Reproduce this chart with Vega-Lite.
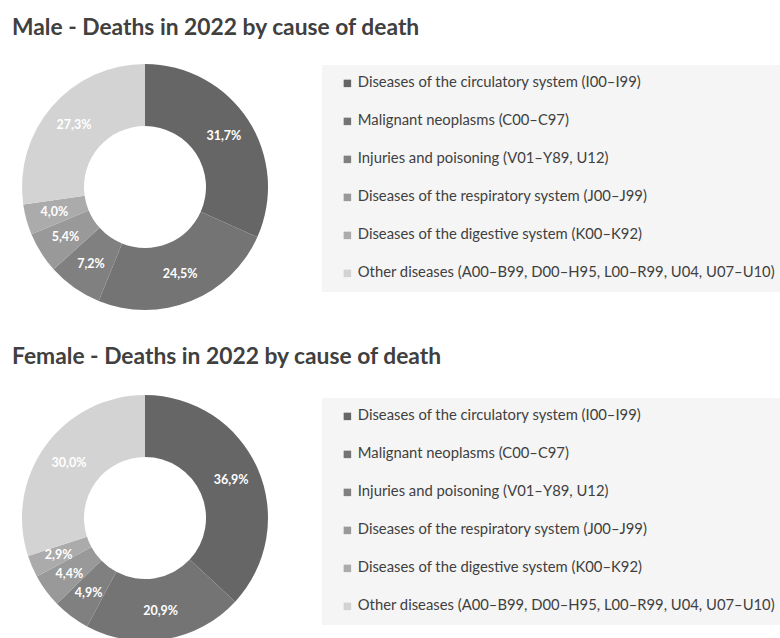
{
  "$schema": "https://vega.github.io/schema/vega-lite/v6.json",
  "padding": {"top": 17, "left": 0, "right": 0, "bottom": 0},
  "background": "white",
  "config": {
    "view": {"stroke": null},
    "font": "Lato",
    "concat": {"spacing": 34}
  },
  "datasets": {
    "male": [
      {"idx": 1, "cause": "Diseases of the circulatory system (I00–I99)", "pct": 31.7, "label": "31,7%"},
      {"idx": 2, "cause": "Malignant neoplasms (C00–C97)", "pct": 24.5, "label": "24,5%"},
      {"idx": 3, "cause": "Injuries and poisoning (V01–Y89, U12)", "pct": 7.2, "label": "7,2%"},
      {"idx": 4, "cause": "Diseases of the respiratory system (J00–J99)", "pct": 5.4, "label": "5,4%"},
      {"idx": 5, "cause": "Diseases of the digestive system (K00–K92)", "pct": 4.0, "label": "4,0%"},
      {"idx": 6, "cause": "Other diseases (A00–B99, D00–H95, L00–R99, U04, U07–U10)", "pct": 27.3, "label": "27,3%"}
    ],
    "female": [
      {"idx": 1, "cause": "Diseases of the circulatory system (I00–I99)", "pct": 36.9, "label": "36,9%"},
      {"idx": 2, "cause": "Malignant neoplasms (C00–C97)", "pct": 20.9, "label": "20,9%"},
      {"idx": 3, "cause": "Injuries and poisoning (V01–Y89, U12)", "pct": 4.9, "label": "4,9%"},
      {"idx": 4, "cause": "Diseases of the respiratory system (J00–J99)", "pct": 4.4, "label": "4,4%"},
      {"idx": 5, "cause": "Diseases of the digestive system (K00–K92)", "pct": 2.9, "label": "2,9%"},
      {"idx": 6, "cause": "Other diseases (A00–B99, D00–H95, L00–R99, U04, U07–U10)", "pct": 30.0, "label": "30,0%"}
    ]
  },
  "vconcat": [
    {
      "title": {"text": "Male - Deaths in 2022 by cause of death", "anchor": "start", "fontSize": 22.8, "fontWeight": "bold", "color": "#404040", "offset": 22, "dx": 12},
      "width": 290,
      "height": 250,
      "data": {"name": "male"},
      "encoding": {
        "theta": {"field": "pct", "type": "quantitative", "stack": true},
        "order": {"field": "idx", "type": "quantitative"}
      },
      "layer": [
        {
          "mark": {"type": "arc", "outerRadius": 123, "innerRadius": 61},
          "encoding": {
            "color": {
              "field": "cause", "type": "nominal", "sort": null,
              "scale": {"domain": ["Diseases of the circulatory system (I00–I99)", "Malignant neoplasms (C00–C97)", "Injuries and poisoning (V01–Y89, U12)", "Diseases of the respiratory system (J00–J99)", "Diseases of the digestive system (K00–K92)", "Other diseases (A00–B99, D00–H95, L00–R99, U04, U07–U10)"],
                        "range": ["#666666", "#747474", "#808080", "#999999", "#ababab", "#d3d3d3"]},
              "legend": {"orient": "none", "legendX": 322, "legendY": 3, "title": null, "fillColor": "#f5f5f5", "padding": 11, "symbolOffset": 7, "symbolType": "square", "symbolSize": 56, "symbolStrokeWidth": 0, "labelFontSize": 14.8, "labelColor": "#404040", "rowPadding": 22, "labelLimit": 0, "labelOffset": 3}
            }
          }
        },
        {
          "mark": {"type": "text", "radius": 94, "fill": "white", "fontSize": 12.5, "fontWeight": "bold"},
          "encoding": {"text": {"field": "label"}}
        }
      ]
    },
    {
      "title": {"text": "Female - Deaths in 2022 by cause of death", "anchor": "start", "fontSize": 22.8, "fontWeight": "bold", "color": "#404040", "offset": 24, "dx": 12},
      "width": 290,
      "height": 250,
      "data": {"name": "female"},
      "encoding": {
        "theta": {"field": "pct", "type": "quantitative", "stack": true},
        "order": {"field": "idx", "type": "quantitative"}
      },
      "layer": [
        {
          "mark": {"type": "arc", "outerRadius": 123, "innerRadius": 61},
          "encoding": {
            "color": {
              "field": "cause", "type": "nominal", "sort": null,
              "scale": {"domain": ["Diseases of the circulatory system (I00–I99)", "Malignant neoplasms (C00–C97)", "Injuries and poisoning (V01–Y89, U12)", "Diseases of the respiratory system (J00–J99)", "Diseases of the digestive system (K00–K92)", "Other diseases (A00–B99, D00–H95, L00–R99, U04, U07–U10)"],
                        "range": ["#666666", "#747474", "#808080", "#999999", "#ababab", "#d3d3d3"]},
              "legend": {"orient": "none", "legendX": 322, "legendY": 5, "title": null, "fillColor": "#f5f5f5", "padding": 11, "symbolOffset": 7, "symbolType": "square", "symbolSize": 56, "symbolStrokeWidth": 0, "labelFontSize": 14.8, "labelColor": "#404040", "rowPadding": 22, "labelLimit": 0, "labelOffset": 3}
            }
          }
        },
        {
          "mark": {"type": "text", "radius": 94, "fill": "white", "fontSize": 12.5, "fontWeight": "bold"},
          "encoding": {"text": {"field": "label"}}
        }
      ]
    }
  ],
  "resolve": {"scale": {"color": "independent"}, "legend": {"color": "independent"}}
}
